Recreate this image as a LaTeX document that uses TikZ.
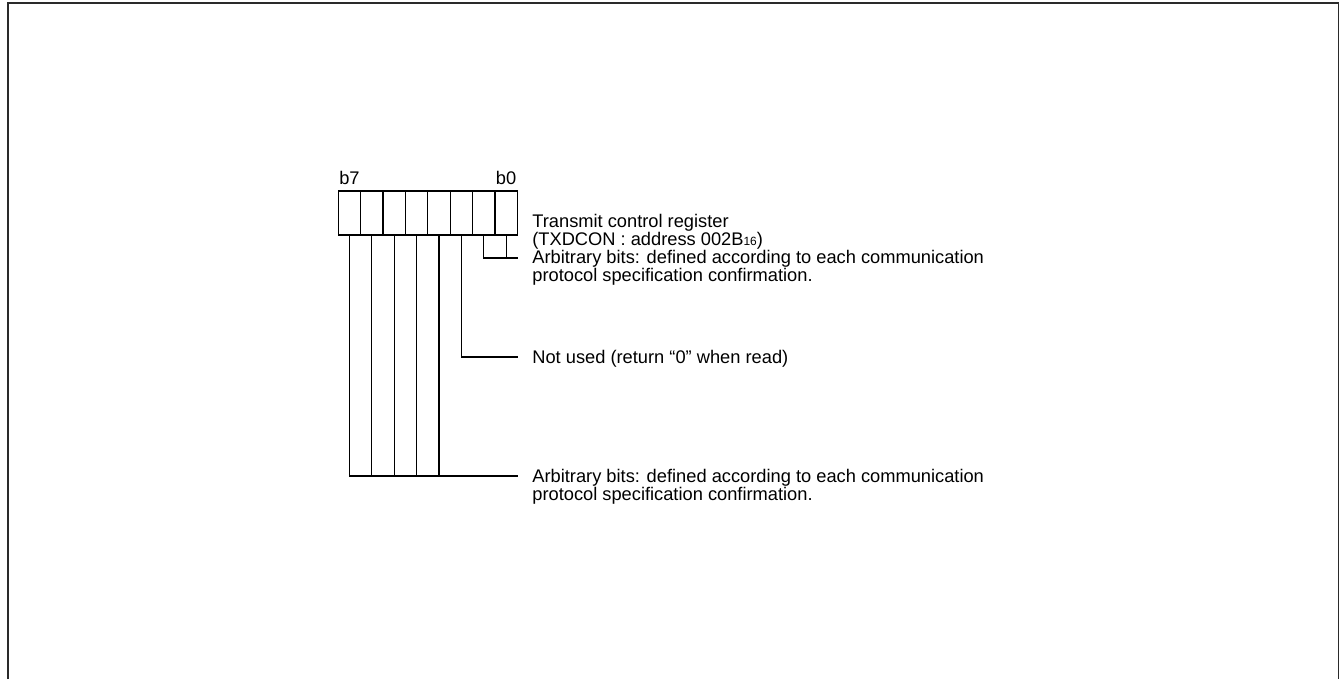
\documentclass[tikz,border=0pt]{standalone}
\usepackage{fontspec}
\setmainfont{Liberation Sans}
\usepackage{tikz}
\usetikzlibrary{positioning,calc}
\definecolor{frameline}{HTML}{2A2A2A}

\begin{document}
\begin{tikzpicture}[x=0.02cm,y=-0.02cm,
  cell/.style={draw,line width=0.7pt,minimum width=0.448cm,minimum height=0.88cm,inner sep=0pt,outer sep=0pt},
  note/.style={align=left,inner sep=0pt,font=\fontsize{10.4}{10.25}\selectfont},
  bitlbl/.style={inner sep=0pt,font=\fontsize{10.4}{10.25}\selectfont},
  lead/.style={draw,line width=0.7pt}]
\useasboundingbox (0,0) rectangle (1344,679);
\draw[frameline,line width=1.1pt] (8.3,679) -- (8.3,2.8) -- (1338.5,2.8) -- (1338.5,679);
% register cells, b7 on the left
\foreach \b [evaluate=\b as \x using {338.3+22.375*(7-\b)+11.19}] in {7,...,0}
  \node[cell] (bit\b) at (\x,213) {};
\node[bitlbl,above=0.12cm of bit7,anchor=south] (lb7) {b7};
\node[bitlbl,above=0.12cm of bit0,anchor=south] (lb0) {b0};
% texts
\node[note,anchor=north west] (title) at (532,214) {Transmit control register\\(TXDCON : address 002B{\fontsize{6.8}{7}\selectfont 16})};
\node[note,anchor=north west] (arbA) at (532,250) {Arbitrary bits: defined according to each communication\\protocol specification confirmation.};
\node[note,anchor=base west] (unused) at (532,363.5) {Not used (return “0” when read)};
\node[note,anchor=north west] (arbB) at (532,469) {Arbitrary bits: defined according to each communication\\protocol specification confirmation.};
\coordinate (jA) at (518,258);
\coordinate (jU) at (518,357);
\coordinate (jB) at (518,476);
% leads
\draw[lead] (bit1.south) |- (jA);
\draw[lead] (bit0.south) -- (bit0.south |- jA);
\draw[lead] (bit2.south) |- (jU);
\foreach \b in {7,...,3}
  \draw[lead] (bit\b.south) -- (bit\b.south |- jB);
\draw[lead] (bit7.south |- jB) -- (jB);
\end{tikzpicture}
\end{document}
